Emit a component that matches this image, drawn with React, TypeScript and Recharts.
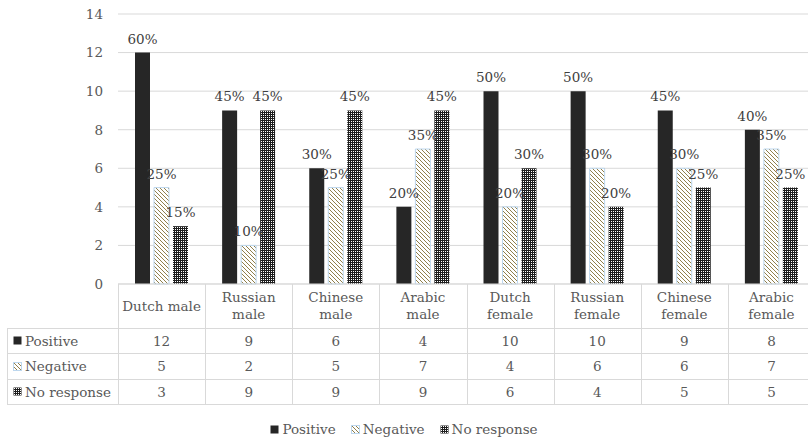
import React from "react";
import { Bar, BarChart, CartesianGrid, LabelList, XAxis, YAxis } from "recharts";

const categories = [
  "Dutch male",
  "Russian male",
  "Chinese male",
  "Arabic male",
  "Dutch female",
  "Russian female",
  "Chinese female",
  "Arabic female",
];
const positive = [12, 9, 6, 4, 10, 10, 9, 8];
const negative = [5, 2, 5, 7, 4, 6, 6, 7];
const noResponse = [3, 9, 9, 9, 6, 4, 5, 5];
const positivePct = [60, 45, 30, 20, 50, 50, 45, 40];
const negativePct = [25, 10, 25, 35, 20, 30, 30, 35];
const noResponsePct = [15, 45, 45, 45, 30, 20, 25, 25];
const yTicks = [0, 2, 4, 6, 8, 10, 12, 14];

const series = [
  { name: "Positive", values: positive, fill: "#262626" },
  { name: "Negative", values: negative, fill: "url(#negPattern)" },
  { name: "No response", values: noResponse, fill: "url(#noRespPattern)" },
];

const data = categories.map((name, i) => ({
  name,
  positive: positive[i],
  negative: negative[i],
  noResponse: noResponse[i],
  posLabel: `${positivePct[i]}%`,
  negLabel: `${negativePct[i]}%`,
  noRespLabel: `${noResponsePct[i]}%`,
}));

// layout
const W = 830;
const H = 438;
const PLOT_LEFT = 118;
const PLOT_RIGHT = 815;
const PLOT_TOP = 14;
const PLOT_BOTTOM = 284;
const AXIS_H = 44;
const COL_W = (PLOT_RIGHT - PLOT_LEFT) / categories.length;
const ROW_TOPS = [328, 353, 379, 404];
const TABLE_LEFT = 7;

const GRID = "#d9d9d9";
const TEXT = "#595959";
const FONT = "'DejaVu Serif', 'Liberation Serif', serif";
const FS = 13.5;

function CategoryTick(props: any) {
  const { x, y, payload } = props;
  const label: string = payload.value;
  const lines = label.length > 10 ? label.split(" ") : [label];
  return (
    <g>
      {lines.length === 1 ? (
        <text x={x} y={y + 27} textAnchor="middle" fill={TEXT} fontSize={FS}>
          {label}
        </text>
      ) : (
        lines.map((ln, i) => (
          <text
            key={i}
            x={x}
            y={y + 18 + i * 17}
            textAnchor="middle"
            fill={TEXT}
            fontSize={FS}
          >
            {ln}
          </text>
        ))
      )}
    </g>
  );
}

function Marker({ fill, stroke }: { fill: string; stroke?: string }) {
  return (
    <svg width={9} height={9} style={{ display: "block" }}>
      <rect
        x={0.5}
        y={0.5}
        width={8}
        height={8}
        fill={fill}
        stroke={stroke ?? "none"}
      />
    </svg>
  );
}

export default function App() {
  return (
    <div
      style={{
        position: "absolute",
        left: 0,
        top: 0,
        width: 808,
        height: 438,
        overflow: "hidden",
        background: "#fff",
        fontFamily: FONT,
      }}
    >
      <svg width={0} height={0} style={{ position: "absolute" }}>
        <defs>
          <pattern
            id="negPattern"
            patternUnits="userSpaceOnUse"
            width={4}
            height={4}
          >
            <rect width={4} height={4} fill="#fff" />
            <path d="M-1,-1 L5,5 M-1,3 L1,5 M3,-1 L5,1" stroke="#8f7f4c" strokeWidth={1} />
          </pattern>
          <pattern
            id="noRespPattern"
            patternUnits="userSpaceOnUse"
            width={2}
            height={2}
          >
            <rect width={2} height={2} fill="#1e1e1e" />
            <rect x={1} y={1} width={1} height={1} fill="#fff" />
          </pattern>
        </defs>
      </svg>

      <BarChart
        width={W}
        height={H}
        data={data}
        margin={{ top: PLOT_TOP, right: W - PLOT_RIGHT, left: 0, bottom: H - PLOT_BOTTOM - AXIS_H }}
        barGap={4}
        barSize={15}
        style={{ fontFamily: FONT }}
      >
        <CartesianGrid vertical={false} stroke={GRID} />
        <XAxis
          dataKey="name"
          height={AXIS_H}
          axisLine={{ stroke: GRID }}
          tickLine={false}
          tickSize={0}
          tickMargin={0}
          interval={0}
          tick={<CategoryTick />}
        />
        <YAxis
          width={PLOT_LEFT}
          domain={[0, 14]}
          ticks={yTicks}
          interval={0}
          axisLine={false}
          tickLine={false}
          tickSize={0}
          tickMargin={15}
          tick={{ fill: TEXT, fontSize: FS }}
        />
        <Bar dataKey="positive" fill="#262626" isAnimationActive={false}>
          <LabelList dataKey="posLabel" position="top" offset={9} fill="#404040" fontSize={FS} />
        </Bar>
        <Bar
          dataKey="negative"
          fill="url(#negPattern)"
          stroke="#bdd7ee"
          strokeWidth={1}
          isAnimationActive={false}
        >
          <LabelList dataKey="negLabel" position="top" offset={9} fill="#404040" fontSize={FS} />
        </Bar>
        <Bar dataKey="noResponse" fill="url(#noRespPattern)" isAnimationActive={false}>
          <LabelList dataKey="noRespLabel" position="top" offset={9} fill="#404040" fontSize={FS} />
        </Bar>
      </BarChart>

      {/* header row vertical lines */}
      {categories.map((_, i) => (
        <div
          key={"hv" + i}
          style={{
            position: "absolute",
            left: PLOT_LEFT + i * COL_W,
            top: PLOT_BOTTOM,
            width: 1,
            height: ROW_TOPS[ROW_TOPS.length - 1] - PLOT_BOTTOM,
            background: GRID,
          }}
        />
      ))}
      <div
        style={{
          position: "absolute",
          left: TABLE_LEFT,
          top: ROW_TOPS[0],
          width: 1,
          height: ROW_TOPS[3] - ROW_TOPS[0],
          background: GRID,
        }}
      />
      {ROW_TOPS.map((t, i) => (
        <div
          key={"hr" + i}
          style={{
            position: "absolute",
            left: TABLE_LEFT,
            top: t,
            width: PLOT_RIGHT - TABLE_LEFT,
            height: 1,
            background: GRID,
          }}
        />
      ))}

      {/* table rows */}
      {series.map((s, r) => (
        <React.Fragment key={s.name}>
          <div
            style={{
              position: "absolute",
              left: TABLE_LEFT + 6,
              top: ROW_TOPS[r],
              height: ROW_TOPS[r + 1] - ROW_TOPS[r],
              display: "flex",
              alignItems: "center",
              gap: 3,
              color: TEXT,
              fontSize: FS,
            }}
          >
            <Marker fill={s.fill} stroke={r === 1 ? "#bdd7ee" : undefined} />
            <span>{s.name}</span>
          </div>
          {s.values.map((v, c) => (
            <div
              key={c}
              style={{
                position: "absolute",
                left: PLOT_LEFT + c * COL_W,
                top: ROW_TOPS[r],
                width: COL_W,
                height: ROW_TOPS[r + 1] - ROW_TOPS[r],
                display: "flex",
                alignItems: "center",
                justifyContent: "center",
                color: TEXT,
                fontSize: FS,
              }}
            >
              {v}
            </div>
          ))}
        </React.Fragment>
      ))}

      {/* legend */}
      <div
        style={{
          position: "absolute",
          left: 0,
          top: 420,
          width: 808,
          height: 18,
          display: "flex",
          justifyContent: "center",
          alignItems: "center",
          gap: 15,
          color: TEXT,
          fontSize: FS,
        }}
      >
        {series.map((s, i) => (
          <div key={s.name} style={{ display: "flex", alignItems: "center", gap: 3 }}>
            <Marker fill={s.fill} stroke={i === 1 ? "#bdd7ee" : undefined} />
            <span>{s.name}</span>
          </div>
        ))}
      </div>
    </div>
  );
}
